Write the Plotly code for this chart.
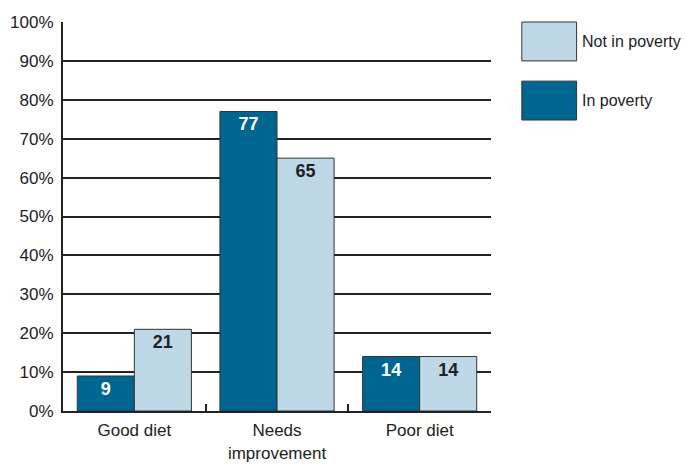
import plotly.graph_objects as go

categories = ["Good diet", "Needs<br>improvement", "Poor diet"]
in_poverty = [9, 77, 14]
not_in_poverty = [21, 65, 14]
series_names = ["In poverty", "Not in poverty"]
y_ticks = [0, 10, 20, 30, 40, 50, 60, 70, 80, 90, 100]
y_tick_labels = [f"{v}%" for v in y_ticks]

dark = "rgb(0,102,145)"
light = "rgb(191,216,232)"
FONT = "Liberation Sans Narrow, Arial Narrow, Liberation Sans, Arial, sans-serif"

fig = go.Figure()
fig.add_trace(go.Bar(
    x=categories, y=in_poverty, name=series_names[0],
    marker=dict(color=dark, line=dict(color="#333333", width=1)),
    text=in_poverty, textposition="inside", insidetextanchor="end",
    textfont=dict(color="white", size=18, family=FONT, weight="bold"),
    textangle=0,
))
fig.add_trace(go.Bar(
    x=categories, y=not_in_poverty, name=series_names[1],
    marker=dict(color=light, line=dict(color="#333333", width=1)),
    text=not_in_poverty, textposition="inside", insidetextanchor="end",
    textfont=dict(color="#222222", size=18, family=FONT, weight="bold"),
    textangle=0,
))

fig.update_layout(
    width=686, height=471,
    margin=dict(l=63, r=195, t=22, b=60, autoexpand=False),
    paper_bgcolor="white", plot_bgcolor="white",
    barmode="group", bargap=0.2, bargroupgap=0,
    showlegend=False,
    font=dict(family=FONT, size=17, color="#222222"),
    uniformtext=dict(mode="show", minsize=18),
)
fig.update_xaxes(
    showline=True, linecolor="#222222", linewidth=2,
    ticks="inside", tickson="boundaries", ticklen=7, tickwidth=2, tickcolor="#222222",
    showgrid=False, tickfont=dict(size=17), automargin=False, ticklabelstandoff=3,
)
fig.update_yaxes(
    range=[0, 100], tickvals=y_ticks, ticktext=y_tick_labels,
    showline=True, linecolor="#222222", linewidth=2,
    showgrid=True, gridcolor="#222222", gridwidth=1.6,
    ticks="", ticklabelstandoff=4, zeroline=False, tickfont=dict(size=17),
    automargin=False,
)

# Legend drawn as large boxes to the right (Not in poverty on top)
legend_items = [(series_names[1], light), (series_names[0], dark)]
for i, (name, col) in enumerate(legend_items):
    y0 = 1.0 - i * 0.152
    fig.add_shape(type="rect", xref="paper", yref="paper",
                  x0=1.072, x1=1.2, y0=y0 - 0.1, y1=y0,
                  fillcolor=col, line=dict(color="#333333", width=1))
    fig.add_annotation(xref="paper", yref="paper", x=1.208, y=y0 - 0.05,
                       text=name, showarrow=False, xanchor="left", yanchor="middle",
                       font=dict(size=16, color="#222222"))

fig.write_html("out.html", post_script="document.body.style.margin='0';",
               config={"displayModeBar": False})
